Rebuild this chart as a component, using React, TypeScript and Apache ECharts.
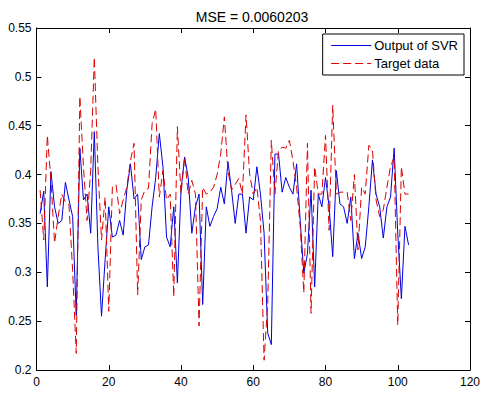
import React, { useEffect, useRef } from "react";
import * as echarts from "echarts";

const titleText = "MSE = 0.0060203";
const seriesNames = ["Output of SVR", "Target data"];
const xTicks = { min: 0, max: 120, interval: 20 };
const yTicks = { min: 0.2, max: 0.55, interval: 0.05 };

const svrOutput = [
  0.36, 0.383, 0.285, 0.403, 0.367, 0.35, 0.353, 0.392, 0.374, 0.357,
  0.256, 0.427, 0.374, 0.38, 0.34, 0.444, 0.326, 0.255, 0.313, 0.367,
  0.336, 0.338, 0.353, 0.338, 0.384, 0.411, 0.375, 0.38, 0.313, 0.326,
  0.328, 0.367, 0.397, 0.442, 0.408, 0.336, 0.326, 0.367, 0.289, 0.384,
  0.418, 0.397, 0.34, 0.367, 0.38, 0.267, 0.367, 0.347, 0.357, 0.365,
  0.387, 0.37, 0.413, 0.384, 0.35, 0.38, 0.38, 0.34, 0.377, 0.374,
  0.408, 0.38, 0.34, 0.238, 0.226, 0.421, 0.421, 0.382, 0.397, 0.387,
  0.38, 0.411, 0.353, 0.299, 0.319, 0.384, 0.285, 0.38, 0.367, 0.397,
  0.367, 0.316, 0.404, 0.37, 0.367, 0.35, 0.377, 0.314, 0.34, 0.314,
  0.326, 0.367, 0.415, 0.38, 0.367, 0.335, 0.367, 0.377, 0.427, 0.34,
  0.273, 0.347, 0.328,
];

const targetData = [
  0.384, 0.333, 0.44, 0.394, 0.33, 0.357, 0.38, 0.372, 0.369, 0.302,
  0.217, 0.48, 0.408, 0.353, 0.404, 0.52, 0.408, 0.333, 0.377, 0.26,
  0.387, 0.39, 0.36, 0.374, 0.387, 0.414, 0.432, 0.277, 0.374, 0.384,
  0.386, 0.452, 0.467, 0.377, 0.404, 0.374, 0.38, 0.275, 0.449, 0.38,
  0.418, 0.38, 0.394, 0.38, 0.245, 0.387, 0.38, 0.382, 0.387, 0.4,
  0.421, 0.459, 0.404, 0.384, 0.39, 0.396, 0.38, 0.461, 0.4, 0.38,
  0.387, 0.353, 0.21, 0.268, 0.435, 0.38, 0.425, 0.428, 0.427, 0.435,
  0.414, 0.387, 0.347, 0.279, 0.432, 0.258, 0.408, 0.38, 0.38, 0.44,
  0.343, 0.471, 0.38, 0.382, 0.382, 0.382, 0.353, 0.4, 0.323, 0.387,
  0.38, 0.43, 0.425, 0.374, 0.357, 0.364, 0.387, 0.408, 0.418, 0.246,
  0.408, 0.38, 0.38,
];

const FONT = "'Liberation Sans', Arial, Helvetica, sans-serif";

export default function App() {
  const ref = useRef<HTMLDivElement>(null);
  useEffect(() => {
    if (!ref.current) return;
    const chart = echarts.init(ref.current, undefined, { renderer: "svg" });
    const toPairs = (arr: number[]) => arr.map((v, i) => [i + 1, v]);
    const axisCommon = {
      axisLine: { show: true, onZero: false, lineStyle: { color: "#000", width: 1 } },
      axisTick: { show: true, inside: true, length: 5, lineStyle: { color: "#000" } },
      splitLine: { show: false },
    };
    chart.setOption({
      animation: false,
      backgroundColor: "#fff",
      title: {
        text: titleText,
        left: 247,
        top: 5,
        textAlign: "center",
        textStyle: { fontFamily: FONT, fontSize: 14, fontWeight: "normal", color: "#000" },
      },
      legend: {
        data: seriesNames,
        orient: "vertical",
        right: 22,
        top: 34,
        backgroundColor: "#fff",
        borderColor: "#000",
        borderWidth: 1,
        borderRadius: 0,
        padding: [5, 6, 5, 8],
        itemWidth: 40,
        itemHeight: 14,
        itemGap: 5,
        itemStyle: { opacity: 0, borderWidth: 0 },
        lineStyle: { width: 1 },
        textStyle: { fontFamily: FONT, fontSize: 13, color: "#000", padding: [0, 0, 0, -2] },
      },
      grid: { left: 36.5, right: 16, top: 28, bottom: 26, containLabel: false },
      xAxis: [
        {
          type: "value",
          min: xTicks.min,
          max: xTicks.max,
          interval: xTicks.interval,
          position: "bottom",
          ...axisCommon,
          axisLabel: { show: true, color: "#000", fontFamily: FONT, fontSize: 12, margin: 6 },
        },
        {
          type: "value",
          min: xTicks.min,
          max: xTicks.max,
          interval: xTicks.interval,
          position: "top",
          ...axisCommon,
          axisLabel: { show: false },
        },
      ],
      yAxis: [
        {
          type: "value",
          min: yTicks.min,
          max: yTicks.max,
          interval: yTicks.interval,
          position: "left",
          ...axisCommon,
          axisLabel: {
            show: true,
            color: "#000",
            fontFamily: FONT,
            fontSize: 12,
            margin: 5,
            formatter: (v: number) => String(Math.round(v * 100) / 100),
          },
        },
        {
          type: "value",
          min: yTicks.min,
          max: yTicks.max,
          interval: yTicks.interval,
          position: "right",
          ...axisCommon,
          axisLabel: { show: false },
        },
      ],
      series: [
        {
          name: seriesNames[0],
          type: "line",
          data: toPairs(svrOutput),
          symbol: "none",
          lineStyle: { color: "#0000e0", width: 1 },
          itemStyle: { color: "#0000e0" },
        },
        {
          name: seriesNames[1],
          type: "line",
          data: toPairs(targetData),
          symbol: "none",
          lineStyle: { color: "#dd0000", width: 1, type: [8, 4] },
          itemStyle: { color: "#dd0000" },
        },
      ],
    });
    return () => chart.dispose();
  }, []);
  return (
    <div
      ref={ref}
      style={{ position: "fixed", left: 0, top: 0, width: 486, height: 396, background: "#fff" }}
    />
  );
}
